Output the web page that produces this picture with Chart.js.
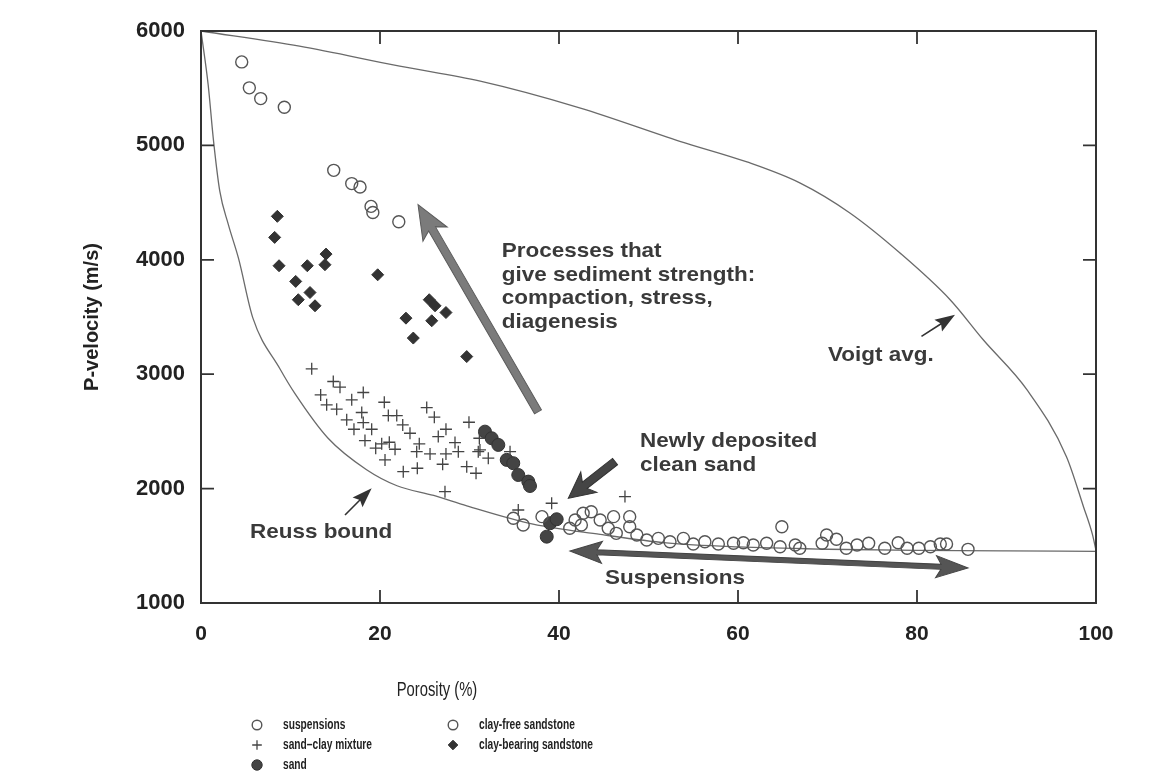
<!DOCTYPE html>
<html>
<head>
<meta charset="utf-8">
<script src="https://cdn.jsdelivr.net/npm/chart.js@4.4.1/dist/chart.umd.min.js"></script>
<style>
  html, body { margin: 0; padding: 0; background: #fff; }
  #wrap { width: 1158px; height: 782px; }
</style>
</head>
<body>
<div id="wrap"><canvas id="c" width="1158" height="782"></canvas></div>
<script>
// axis ticks
const xTicks = [0, 20, 40, 60, 80, 100];
const yTicks = [1000, 2000, 3000, 4000, 5000, 6000];

// suspensions (open circles along the bottom)
const susPorosity = [34.9, 36.0, 38.1, 41.2, 41.8, 42.7, 42.5, 43.6, 44.6, 45.5, 46.1, 46.4, 47.9, 47.9, 48.7, 49.8, 51.1, 52.4, 53.9, 55.0, 56.3, 57.8, 59.5, 60.6, 61.7, 63.2, 64.7, 64.9, 66.4, 66.9, 69.4, 69.9, 71.0, 72.1, 73.3, 74.6, 76.4, 77.9, 78.9, 80.2, 81.5, 82.6, 83.3, 85.7];
const susVelocity = [1741, 1682, 1755, 1653, 1726, 1784, 1682, 1798, 1726, 1653, 1755, 1609, 1755, 1667, 1594, 1551, 1565, 1536, 1565, 1516, 1536, 1516, 1522, 1527, 1507, 1522, 1492, 1667, 1507, 1478, 1522, 1594, 1557, 1478, 1507, 1522, 1478, 1527, 1478, 1478, 1492, 1516, 1516, 1469];

// sand-clay mixture (+)
const mixPorosity = [12.37, 14.78, 15.53, 18.13, 13.37, 16.84, 20.48, 14.04, 15.16, 17.96, 20.93, 21.87, 25.22, 26.07, 16.28, 18.13, 22.54, 29.94, 17.09, 19.07, 23.35, 27.37, 26.51, 18.32, 20.19, 21.04, 19.52, 21.68, 24.39, 28.38, 24.1, 25.59, 27.37, 28.75, 30.98, 20.56, 32.1, 27.0, 24.17, 22.6, 29.69, 30.73, 27.26, 31.1, 31.17, 34.53, 35.45, 39.18, 47.37];
const mixVelocity = [3047, 2936, 2887, 2840, 2819, 2776, 2755, 2732, 2694, 2665, 2638, 2638, 2708, 2624, 2601, 2577, 2557, 2580, 2519, 2519, 2484, 2519, 2455, 2420, 2391, 2405, 2353, 2344, 2391, 2402, 2323, 2303, 2303, 2323, 2323, 2251, 2266, 2213, 2178, 2148, 2192, 2134, 1973, 2440, 2338, 2323, 1813, 1872, 1930];

// sand (filled circles)
const sandPorosity = [31.73, 32.48, 33.22, 34.16, 34.89, 35.45, 36.57, 36.76, 39.0, 39.74, 38.63];
const sandVelocity = [2498, 2440, 2382, 2251, 2222, 2119, 2061, 2023, 1697, 1732, 1580];

// clay-free sandstone (open circles, upper left)
const cleanPorosity = [4.55, 5.4, 6.67, 9.31, 14.83, 16.84, 17.77, 19.0, 19.2, 22.1];
const cleanVelocity = [5730, 5503, 5409, 5333, 4782, 4666, 4637, 4467, 4414, 4333];

// clay-bearing sandstone (diamonds)
const clayPorosity = [8.53, 8.23, 13.97, 8.72, 11.88, 13.85, 10.58, 19.74, 12.18, 10.87, 12.74, 25.5, 26.15, 27.37, 22.9, 25.78, 23.72, 29.69];
const clayVelocity = [4380, 4196, 4050, 3948, 3948, 3957, 3811, 3869, 3714, 3651, 3598, 3651, 3598, 3539, 3490, 3467, 3316, 3154];

// bounds
const voigtPorosity = [0, 11, 22.2, 31.2, 42.3, 53.5, 61, 66.9, 72.5, 78.1, 83.7, 87.4, 92.3, 96.7, 98.6, 99.6, 100];
const voigtVelocity = [6000, 5867, 5692, 5561, 5328, 5036, 4855, 4672, 4409, 4059, 3651, 3301, 2863, 2279, 1842, 1600, 1460];
const reussPorosity = [0, 0.8, 1.4, 2.1, 3.05, 4.2, 5.8, 8.8, 10.5, 14.2, 18.5, 21.9, 26, 29.7, 37.1, 44.6, 52, 60, 70, 80, 90, 100];
const reussVelocity = [6000, 5530, 5040, 4600, 4310, 4010, 3490, 3050, 2830, 2440, 2165, 2025, 1940, 1850, 1690, 1600, 1525, 1490, 1470, 1460, 1455, 1452];

const pts = (xs, ys) => xs.map((x, i) => ({ x: x, y: ys[i] }));

const FONT = '"Liberation Sans", Arial, Helvetica, sans-serif';
const INK = '#3a3a3a';

function arrow(ctx, x1, y1, x2, y2, o) {
  const L = Math.hypot(x2 - x1, y2 - y1);
  const w = o.shaft / 2, hl = o.head, hw = o.headW / 2, n = o.notch || 0;
  ctx.save();
  ctx.translate(x1, y1);
  ctx.rotate(Math.atan2(y2 - y1, x2 - x1));
  ctx.beginPath();
  if (o.both) {
    ctx.moveTo(0, 0);
    ctx.lineTo(hl, -hw);
    ctx.lineTo(hl - n, -w);
  } else {
    ctx.moveTo(0, -w);
  }
  ctx.lineTo(L - hl + n, -w);
  ctx.lineTo(L - hl, -hw);
  ctx.lineTo(L, 0);
  ctx.lineTo(L - hl, hw);
  ctx.lineTo(L - hl + n, w);
  if (o.both) {
    ctx.lineTo(hl - n, w);
    ctx.lineTo(hl, hw);
  } else {
    ctx.lineTo(0, w);
  }
  ctx.closePath();
  ctx.fillStyle = o.fill;
  ctx.fill();
  if (o.stroke) {
    ctx.strokeStyle = o.stroke;
    ctx.lineWidth = 1;
    ctx.stroke();
  }
  ctx.restore();
}

function squeezed(ctx, text, x, y, sx) {
  ctx.save();
  ctx.translate(x, y);
  ctx.scale(sx, 1);
  ctx.fillText(text, 0, 0);
  ctx.restore();
}

const decorations = {
  id: 'decorations',
  afterDraw(chart) {
    const ctx = chart.ctx;
    const xs = chart.scales.x, ys = chart.scales.y;
    const X = v => xs.getPixelForValue(v), Y = v => ys.getPixelForValue(v);
    const a = chart.chartArea;

    // frame and inward ticks on all four sides
    ctx.save();
    ctx.strokeStyle = '#333';
    ctx.lineWidth = 2;
    ctx.strokeRect(a.left, a.top, a.right - a.left, a.bottom - a.top);
    ctx.lineWidth = 1.8;
    ctx.beginPath();
    xTicks.slice(1, -1).forEach(t => {
      ctx.moveTo(X(t), a.bottom); ctx.lineTo(X(t), a.bottom - 13);
      ctx.moveTo(X(t), a.top); ctx.lineTo(X(t), a.top + 13);
    });
    yTicks.slice(1, -1).forEach(t => {
      ctx.moveTo(a.left, Y(t)); ctx.lineTo(a.left + 13, Y(t));
      ctx.moveTo(a.right, Y(t)); ctx.lineTo(a.right - 13, Y(t));
    });
    ctx.stroke();
    ctx.restore();

    // arrows
    arrow(ctx, X(37.65), Y(2671), X(24.25), Y(4482), { shaft: 8, head: 34, headW: 28, notch: 6, fill: '#7b7b7b', stroke: '#5a5a5a' });
    arrow(ctx, X(46.26), Y(2236), X(41.04), Y(1916), { shaft: 8, head: 26, headW: 26, notch: 5, fill: '#454545', stroke: '#333' });
    arrow(ctx, X(41.23), Y(1454), X(85.7), Y(1306), { both: true, shaft: 5, head: 32, headW: 22, notch: 5, fill: '#555', stroke: '#444' });
    arrow(ctx, X(80.5), Y(3330), X(84.25), Y(3519), { shaft: 1.6, head: 20, headW: 14, notch: 3, fill: '#333' });
    arrow(ctx, X(16.09), Y(1769), X(19.07), Y(2003), { shaft: 1.6, head: 20, headW: 14, notch: 3, fill: '#333' });

    // annotation text
    ctx.save();
    ctx.fillStyle = INK;
    ctx.textBaseline = 'middle';
    ctx.textAlign = 'left';
    ctx.font = 'bold 21px ' + FONT;
    const proc = ['Processes that', 'give sediment strength:', 'compaction, stress,', 'diagenesis'];
    const procY = [4073, 3869, 3668, 3458];
    proc.forEach((s, i) => squeezed(ctx, s, X(33.6), Y(procY[i]), 1.07));
    squeezed(ctx, 'Newly deposited', X(49.05), Y(2411), 1.07);
    squeezed(ctx, 'clean sand', X(49.05), Y(2207), 1.07);
    squeezed(ctx, 'Voigt avg.', X(70.06), Y(3169), 1.07);
    squeezed(ctx, 'Reuss bound', X(5.47), Y(1623), 1.07);
    ctx.textAlign = 'center';
    squeezed(ctx, 'Suspensions', X(52.96), Y(1218), 1.07);
    ctx.restore();

    // x-axis title (set left of centre, condensed face)
    ctx.save();
    ctx.fillStyle = '#222';
    ctx.textBaseline = 'middle';
    ctx.textAlign = 'center';
    ctx.font = '20px ' + FONT;
    squeezed(ctx, 'Porosity (%)', 437, 690, 0.74);
    ctx.restore();

    // legend in two columns, markers styled from the datasets
    const ds = chart.data.datasets;
    const rows = [[0, 257, 283, 725], [1, 257, 283, 745], [2, 257, 283, 765], [3, 453, 479, 725], [4, 453, 479, 745]];
    rows.forEach(([i, mx, tx, y]) => {
      const d = ds[i];
      ctx.save();
      ctx.fillStyle = d.backgroundColor;
      ctx.strokeStyle = d.borderColor;
      ctx.lineWidth = d.borderWidth;
      Chart.helpers.drawPoint(ctx, {
        pointStyle: d.pointStyle,
        radius: d.pointRadius * 0.8,
        rotation: 0,
        borderWidth: d.borderWidth
      }, mx, y);
      ctx.restore();
      ctx.save();
      ctx.fillStyle = '#222';
      ctx.textBaseline = 'middle';
      ctx.textAlign = 'left';
      ctx.font = 'bold 15px ' + FONT;
      squeezed(ctx, d.label, tx, y, 0.68);
      ctx.restore();
    });
  }
};

const chart = new Chart(document.getElementById('c'), {
  type: 'scatter',
  data: {
    datasets: [
      {
        label: 'suspensions',
        data: pts(susPorosity, susVelocity),
        pointStyle: 'circle', pointRadius: 6,
        backgroundColor: 'rgba(255,255,255,0)', borderColor: '#555', borderWidth: 1.4
      },
      {
        label: 'sand\u2013clay mixture',
        data: pts(mixPorosity, mixVelocity),
        pointStyle: 'cross', pointRadius: 6,
        backgroundColor: '#444', borderColor: '#444', borderWidth: 1.3
      },
      {
        label: 'sand',
        data: pts(sandPorosity, sandVelocity),
        pointStyle: 'circle', pointRadius: 6.5,
        backgroundColor: '#444', borderColor: '#333', borderWidth: 1
      },
      {
        label: 'clay-free sandstone',
        data: pts(cleanPorosity, cleanVelocity),
        pointStyle: 'circle', pointRadius: 6,
        backgroundColor: 'rgba(255,255,255,0)', borderColor: '#555', borderWidth: 1.4
      },
      {
        label: 'clay-bearing sandstone',
        data: pts(clayPorosity, clayVelocity),
        pointStyle: 'rectRot', pointRadius: 6,
        backgroundColor: '#333', borderColor: '#333', borderWidth: 1
      },
      {
        label: 'Voigt avg.',
        data: pts(voigtPorosity, voigtVelocity),
        showLine: true, pointRadius: 0, borderColor: '#6a6a6a', borderWidth: 1.3,
        cubicInterpolationMode: 'monotone', fill: false
      },
      {
        label: 'Reuss bound',
        data: pts(reussPorosity, reussVelocity),
        showLine: true, pointRadius: 0, borderColor: '#6a6a6a', borderWidth: 1.3,
        cubicInterpolationMode: 'monotone', fill: false
      }
    ]
  },
  options: {
    responsive: false,
    animation: false,
    devicePixelRatio: 1,
    layout: { padding: { top: 31, right: 62, left: 0, bottom: 0 } },
    plugins: { legend: { display: false }, tooltip: { enabled: false } },
    scales: {
      x: {
        type: 'linear', min: 0, max: 100,
        afterBuildTicks: s => { s.ticks = xTicks.map(v => ({ value: v })); },
        afterFit: s => { s.height = 179; },
        grid: { display: false, drawTicks: false },
        border: { display: false },
        ticks: { padding: 19, color: '#222', font: { family: FONT, size: 21, weight: 'bold' }, maxRotation: 0, callback: v => String(v) }
      },
      y: {
        type: 'linear', min: 1000, max: 6000,
        afterBuildTicks: s => { s.ticks = yTicks.map(v => ({ value: v })); },
        afterFit: s => { s.width = 201; },
        grid: { display: false, drawTicks: false },
        border: { display: false },
        ticks: { padding: 16, color: '#222', font: { family: FONT, size: 22, weight: 'bold' }, callback: v => String(v) },
        title: {
          display: true, text: 'P-velocity (m/s)', color: '#222',
          font: { family: FONT, size: 20, weight: 'bold' },
          padding: { top: 80, bottom: 0 }
        }
      }
    }
  },
  plugins: [decorations]
});
</script>
</body>
</html>
